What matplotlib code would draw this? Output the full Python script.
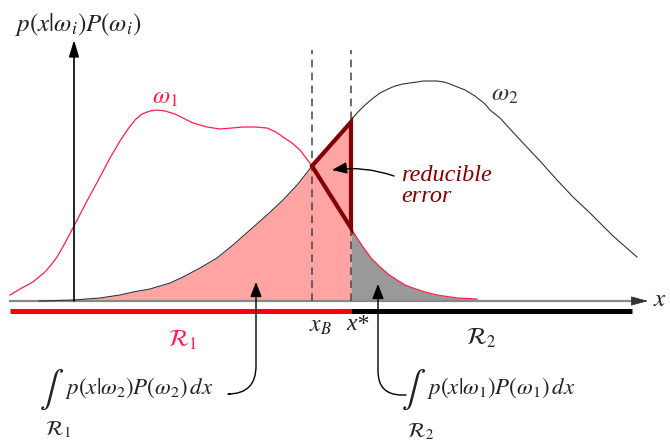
import matplotlib
matplotlib.use("Agg")
import matplotlib.pyplot as plt
import numpy as np
from matplotlib.patches import Polygon

plt.rcParams['mathtext.fontset'] = 'stix'

# ---- data (x position, height above baseline) ----
BASE = 301
red_x = [10, 20, 33, 45, 51, 57, 65, 74, 87, 100, 110, 120, 128, 135, 142, 150, 157, 165, 175,
         183, 193, 207, 220, 232, 243, 255, 267, 276, 283, 292, 300, 312, 322, 331, 341, 351,
         357, 363, 371, 380, 388, 397, 405, 413, 425, 437, 457, 477]
red_h = [6, 12, 19, 29, 36, 44, 58, 75, 100, 124, 143, 160, 172, 181, 187, 190, 191, 190, 187,
         183, 178, 174, 172, 173, 174, 174, 173, 169, 164, 158, 151, 135, 120, 104, 88, 73,
         63, 54, 43, 34, 27, 21, 16, 13, 9, 6, 3, 2]

blk_x = [39, 74, 100, 120, 133, 150, 170, 183, 200, 217, 233, 250, 267, 283, 298, 312, 322,
         331, 341, 351, 358, 365, 372, 380, 388, 395, 403, 410, 417, 423, 430, 437, 444, 450,
         455, 460, 465, 470, 475, 480, 485, 490, 500, 511, 523, 540, 557, 573, 590, 613, 637]
blk_h = [0, 1, 3, 6, 9, 12, 18, 24, 33, 43, 56, 71, 86, 101, 117, 135, 146,
         157, 169, 181, 189, 196, 202, 208, 212, 215, 217, 218, 219, 220, 220, 220, 219, 217,
         215, 213, 211, 208, 205, 201, 197, 191, 183, 171, 158, 140, 121, 104, 88, 65, 44]

x_B = 312
x_star = 351
tri_x = [312, 351, 351]
tri_h = [135, 179, 73]

axis_left, axis_right, axis_tip = 10, 636, 648
yaxis_x, yaxis_tip = 74, 261
r1_bar = [10, 351]
r2_bar = [351, 632]

red_x = np.array(red_x); red_h = np.array(red_h)
blk_x = np.array(blk_x); blk_h = np.array(blk_h)

fig = plt.figure(figsize=(6.7, 4.45), dpi=100)
ax = fig.add_axes([0, 0, 1, 1])
ax.set_xlim(0, 670)
ax.set_ylim(BASE - 445, BASE)
ax.axis('off')

PINK = '#ffa3a3'
GREY = '#999999'
RED = '#ff1f4b'
DARKRED = '#800000'
INK = '#222222'

# fills
m = blk_x <= x_star
ax.fill_between(blk_x[m], 0, blk_h[m], color=PINK, lw=0, zorder=1)
m2 = red_x >= x_star
ax.fill_between(red_x[m2], 0, red_h[m2], color=GREY, lw=0, zorder=1)

# curves
ax.plot(red_x, red_h, color=RED, lw=0.9, zorder=3)
ax.plot(blk_x, blk_h, color='#333333', lw=0.8, zorder=3)

# dashed lines
for xv in (x_B, x_star):
    ax.plot([xv, xv], [0, 251], color='#444444', lw=1.1, ls=(0, (5, 3.5)), zorder=4)

# reducible error triangle
tri = Polygon(list(zip(tri_x, tri_h)), closed=True, fill=False, edgecolor=DARKRED,
              lw=3.0, joinstyle='miter', zorder=5)
ax.add_patch(tri)

# x axis
ax.plot([axis_left, axis_right], [0, 0], color='#888888', lw=1.6, zorder=2)
ax.annotate('', xy=(axis_tip, 0), xytext=(axis_right - 2, 0),
            arrowprops=dict(arrowstyle='-|>,head_length=1.1,head_width=0.3',
                            color='#333333', lw=0.5, shrinkA=0, shrinkB=0), zorder=6)
# y axis
ax.annotate('', xy=(yaxis_x, yaxis_tip), xytext=(yaxis_x, 0),
            arrowprops=dict(arrowstyle='-|>,head_length=1.0,head_width=0.3',
                            color='black', lw=1.2, shrinkA=0, shrinkB=0), zorder=6)

# region bars
ax.plot(r1_bar, [-10, -10], color='#ff0000', lw=3.6, solid_capstyle='butt', zorder=2)
ax.plot(r2_bar, [-10, -10], color='black', lw=3.6, solid_capstyle='butt', zorder=2)

# texts
ax.text(78, BASE - 25, r'$p(x|\omega_i)P(\omega_i)$', fontsize=18, ha='center', va='center',
        color=INK)
ax.text(165, BASE - 97, r'$\omega_1$', fontsize=18, ha='center', va='center', color=RED)
ax.text(505, BASE - 94, r'$\omega_2$', fontsize=18, ha='center', va='center', color='#333333')
ax.text(660, 2, r'$x$', fontsize=18, ha='center', va='center', color=INK)
ax.text(320, BASE - 325, r'$x_B$', fontsize=17, ha='center', va='center', color=INK)
ax.text(357, BASE - 324, 'x*', fontsize=17, ha='center', va='center', color=INK,
        family='Liberation Serif', style='italic')
ax.text(183, BASE - 340, r'$\mathcal{R}_1$', fontsize=17, ha='center', va='center', color=RED)
ax.text(481, BASE - 338, r'$\mathcal{R}_2$', fontsize=17, ha='center', va='center', color=INK)

ax.text(401, BASE - 165, 'reducible\nerror', fontsize=17.5, ha='left', va='top', color=DARKRED,
        family='Liberation Serif', style='italic', linespacing=1.0)

# integrals
ax.text(64, BASE - 390, r'$\int$', fontsize=26, ha='right', va='center', color=INK)
ax.text(65, BASE - 388, r'$p(x|\omega_2)P(\omega_2)\,dx$', fontsize=16.5, ha='left',
        va='center', color=INK)
ax.text(58, BASE - 430, r'$\mathcal{R}_1$', fontsize=15, ha='center', va='center', color=INK)
ax.text(426, BASE - 390, r'$\int$', fontsize=26, ha='right', va='center', color=INK)
ax.text(427, BASE - 388, r'$p(x|\omega_1)P(\omega_1)\,dx$', fontsize=16.5, ha='left',
        va='center', color=INK)
ax.text(421, BASE - 432, r'$\mathcal{R}_2$', fontsize=15, ha='center', va='center', color=INK)

# annotation arrows
arr = dict(arrowstyle='-|>,head_length=0.9,head_width=0.35', color='black', lw=1.0,
           shrinkA=0, shrinkB=0)
ax.annotate('', xy=(256, BASE - 282), xytext=(230, BASE - 394),
            arrowprops=dict(connectionstyle='angle,angleA=0,angleB=90,rad=28', **arr), zorder=7)
ax.annotate('', xy=(378, BASE - 284), xytext=(406, BASE - 395),
            arrowprops=dict(connectionstyle='angle,angleA=0,angleB=90,rad=24', **arr), zorder=7)
ax.annotate('', xy=(332, BASE - 170), xytext=(394, BASE - 176),
            arrowprops=dict(connectionstyle='arc3,rad=0.12', **arr), zorder=7)

fig.savefig('out.png', dpi=100)
